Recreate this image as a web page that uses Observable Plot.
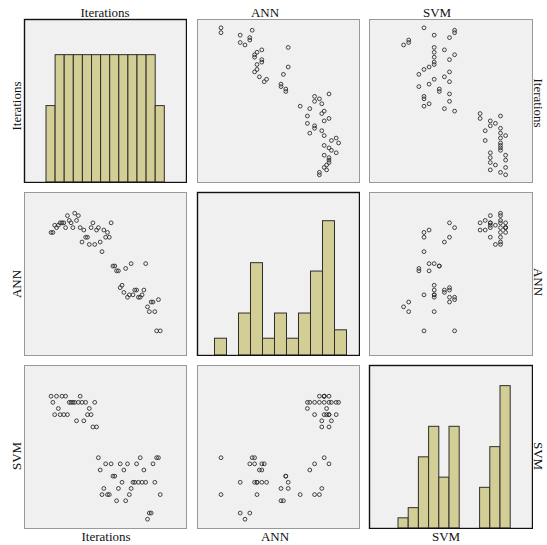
<!DOCTYPE html>
<html>
<head>
<meta charset="utf-8">
<script src="https://cdn.jsdelivr.net/npm/d3@7"></script>
<script src="https://cdn.jsdelivr.net/npm/@observablehq/plot@0.6"></script>
<style>
  body { margin: 0; background: #ffffff; }
  #chart { position: relative; width: 547px; height: 545px; }
  #chart svg { position: absolute; }
</style>
</head>
<body>
<div id="chart"></div>
<script>
// ---------------- data ----------------
const varNames = ["Iterations", "ANN", "SVM"];

const iterations = [0,1,2,3,4,5,6,7,8,9,10,11,12,13,14,15,16,17,18,19,20,
  21,22,23,24,25,26,27,28,29,30,31,32,33,34,35,36,37,38,39,40,
  41,42,43,44,45,46,47,48,49,50,51,52,53,54,55,56,57,58,59,60];

const ann = [8.7,8.7,9.3,9.1,9.3,9.5,9.5,9.5,9.1,10.1,9.7,9.5,9.1,10.3,9.7,10.1,9.1,7.9,8.9,8.3,8.3,
  7.7,9.1,9.5,7.7,8.9,9.1,7.9,7.1,8.9,8.3,8.7,8.3,9.5,5.9,5.9,5.5,5.5,4.1,4.3,3.7,
  5.7,3.3,3.5,6.1,3.5,3.9,3.9,3.3,3.3,3.5,3.9,6.1,2.5,2.1,2.9,2.9,2.1,0.5,3.1,0.5];

const svm = [10.5,10,9,10.5,9.5,9,10.5,9,10.5,9,10,10,10,10,8.5,10,10.5,10,8.5,10,9,
  9.5,9,8,10,8,5.5,4.5,2.5,3,5,2.5,2.5,5,4,4,2,3,5,3.5,4.5,
  2,5,2.5,3,3.5,3.5,5,3.5,5.5,3.5,4.5,3.5,0.5,1,1,5,3.5,5.5,5.5,2.5];

// histogram bin thresholds for each variable
const iterBins = [-2.5,2.5,7.5,12.5,17.5,22.5,27.5,32.5,37.5,42.5,47.5,52.5,57.5,62.5];
const annBins  = [0,1,2,3,4,5,6,7,8,9,10,11];
const svmBins  = [0,1,2,3,4,5,6,7,8,9,10,11];

// ---------------- layout / style ----------------
const colBox = [{left: 24, width: 162}, {left: 197, width: 162}, {left: 369, width: 163}];
const rowBox = [{top: 19, height: 163}, {top: 192, height: 163}, {top: 365, height: 163}];

const colDomain = {Iterations: [-14.59, 74.42], ANN: [-1.458, 12.042], SVM: [-2.843, 13.137]};
const rowDomain = {Iterations: [-3.14, 63.39], ANN: [-1.555, 12.028], SVM: [-0.256, 12.996]};
const histMax   = {Iterations: 6.40, ANN: 19.42, SVM: 16.03};
const binsOf    = {Iterations: iterBins, ANN: annBins, SVM: svmBins};

const panelFill = "#f0f0f0";
const barFill = "#d3ce96";
const barStroke = "#2e2e2e";
const dotStroke = "#2f2f2f";

const table = iterations.map((it, i) => ({Iterations: it, ANN: ann[i], SVM: svm[i]}));

const chart = document.getElementById("chart");

for (let r = 0; r < 3; r++) {
  for (let c = 0; c < 3; c++) {
    const xv = varNames[c], yv = varNames[r];
    const diag = r === c;
    const w = colBox[c].width, h = rowBox[r].height;
    const marks = [Plot.frame({fill: panelFill, stroke: "none"})];
    if (diag) {
      marks.push(Plot.rectY(table, Plot.binX({y: "count"}, {
        x: xv, thresholds: binsOf[xv], fill: barFill, stroke: barStroke, strokeWidth: 1, inset: 0
      })));
    } else {
      marks.push(Plot.dot(table, {x: xv, y: yv, r: 1.9, fill: "none", stroke: dotStroke, strokeWidth: 0.9}));
    }
    marks.push(Plot.frame({stroke: diag ? "#111111" : "#999999", strokeWidth: diag ? 1.4 : 1}));
    const svg = Plot.plot({
      width: w + 2, height: h + 2, margin: 1,
      x: {domain: colDomain[xv], axis: null},
      y: {domain: diag ? [0, histMax[xv]] : rowDomain[yv], axis: null},
      marks
    });
    svg.style.left = (colBox[c].left - 1) + "px";
    svg.style.top = (rowBox[r].top - 1) + "px";
    svg.style.background = "transparent";
    chart.appendChild(svg);
  }
}

// ---------------- variable labels ----------------
const topLabelX = [105, 265, 437];
const bottomLabelX = [106, 275, 446];
const leftLabelY = [106, 284, 456];
const rightLabelY = [103, 282, 456];

const lab = d3.create("svg")
  .attr("width", 547).attr("height", 545)
  .style("left", "0px").style("top", "0px")
  .attr("font-family", "'Liberation Serif', 'Times New Roman', serif")
  .attr("font-size", 13)
  .attr("fill", "#111");

varNames.forEach((name, i) => {
  lab.append("text").attr("x", topLabelX[i]).attr("y", 16.5).attr("text-anchor", "middle").text(name);
  lab.append("text").attr("x", bottomLabelX[i]).attr("y", 541).attr("text-anchor", "middle").text(name);
  lab.append("text").attr("transform", `translate(20.5,${leftLabelY[i]}) rotate(-90)`).attr("text-anchor", "middle").text(name);
  lab.append("text").attr("transform", `translate(533.5,${rightLabelY[i]}) rotate(90)`).attr("text-anchor", "middle").text(name);
});
chart.appendChild(lab.node());
</script>
</body>
</html>
